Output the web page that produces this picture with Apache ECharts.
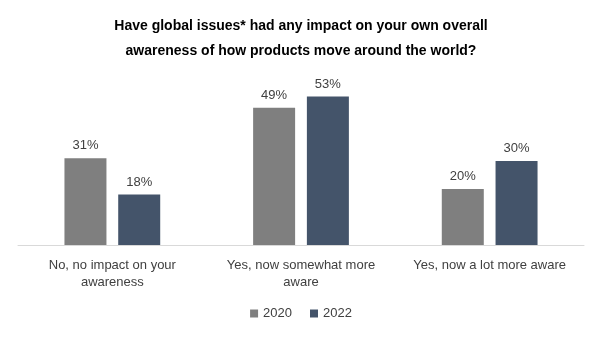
<!DOCTYPE html>
<html><head><meta charset="utf-8">
<script src="https://cdn.jsdelivr.net/npm/echarts@6/dist/echarts.min.js"></script>
<style>html,body{margin:0;padding:0;background:#fff}#c{width:602px;height:337px}</style>
</head><body><div id="c"></div>
<script>
const categories = ["No, no impact on your\nawareness", "Yes, now somewhat more\naware", "Yes, now a lot more aware"];
const seriesNames = ["2020", "2022"];
const values2020 = [31, 49, 20];
const values2022 = [18, 53, 30];
const titleText = "Have global issues* had any impact on your own overall\nawareness of how products move around the world?";

const chart = echarts.init(document.getElementById('c'), null, {renderer: 'canvas'});
const font = "'Liberation Sans', sans-serif";
const lbl = {show: true, position: 'top', formatter: '{c}%', color: '#404040', fontSize: 13, fontFamily: font, distance: 6};
chart.setOption({
  animation: false,
  title: {
    text: titleText, left: 'center', top: 9,
    textStyle: {fontFamily: font, fontWeight: 'bold', fontSize: 14, color: '#000', lineHeight: 25}
  },
  legend: {
    data: seriesNames, bottom: 12, left: 'center', itemWidth: 8, itemHeight: 8, itemGap: 18,
    icon: 'rect',
    textStyle: {fontFamily: font, fontSize: 13, color: '#404040'}
  },
  grid: {left: 18, right: 18, top: 77, bottom: 92},
  xAxis: {
    type: 'category', data: categories,
    axisLine: {lineStyle: {color: '#d9d9d9', width: 1}},
    axisTick: {show: false},
    axisLabel: {fontFamily: font, fontSize: 13, color: '#404040', margin: 12, lineHeight: 17, interval: 0}
  },
  yAxis: {type: 'value', min: 0, max: 60, show: false, splitLine: {show: false}},
  series: [
    {name: seriesNames[0], type: 'bar', data: values2020, barWidth: 42, barGap: '28%',
     itemStyle: {color: '#7f7f7f'}, label: lbl},
    {name: seriesNames[1], type: 'bar', data: values2022, barWidth: 42, barGap: '28%',
     itemStyle: {color: '#44546a'}, label: lbl}
  ]
});
</script></body></html>
